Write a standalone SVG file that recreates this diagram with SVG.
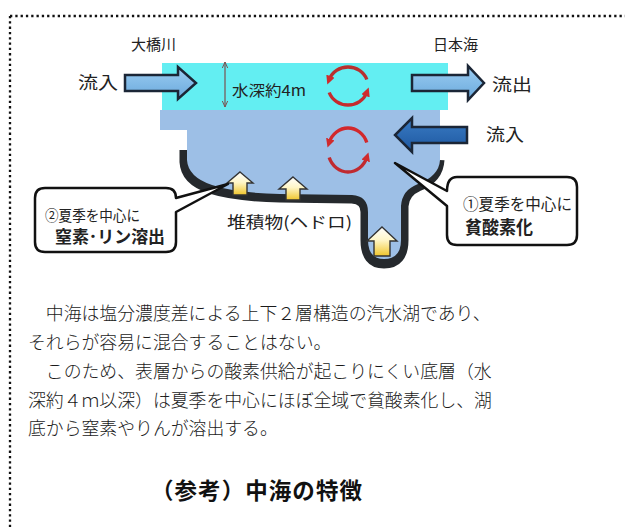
<svg xmlns="http://www.w3.org/2000/svg" width="625" height="530" viewBox="0 0 625 530">
  <defs>
    <style>
      .lbl { font-family: "Noto Sans CJK JP", "Liberation Sans", sans-serif; fill: #222; }
      .body { font-family: "Noto Sans CJK JP", "Liberation Serif", serif; font-size: 17.85px; font-weight: 300; fill: #1a1a1a; }
      .title { font-family: "Noto Sans CJK JP", "Liberation Sans", sans-serif; font-size: 22.5px; font-weight: 700; fill: #111; }
      .frame { stroke: #111; stroke-width: 2.3; stroke-dasharray: 2.3 3; fill: none; }
      .flow { stroke: #1b2636; stroke-width: 2.5; stroke-linejoin: miter; }
      .up { fill: url(#upGrad); stroke: #333; stroke-width: 1.4; stroke-linejoin: miter; }
      .callout { fill: #fff; stroke: #111; stroke-width: 2.5; stroke-linejoin: round; }
      .swirl { fill: none; stroke-width: 3.4; stroke-linecap: butt; }
    </style>
    <linearGradient id="upGrad" x1="0" y1="0" x2="0" y2="1">
      <stop offset="0" stop-color="#ffffff"/>
      <stop offset="0.45" stop-color="#fff6c8"/>
      <stop offset="1" stop-color="#efc52c"/>
    </linearGradient>
    <linearGradient id="lightFlow" x1="0" y1="0" x2="0" y2="1">
      <stop offset="0" stop-color="#9ccdf2"/>
      <stop offset="1" stop-color="#6aa9dc"/>
    </linearGradient>
    <linearGradient id="darkFlow" x1="0" y1="0" x2="0" y2="1">
      <stop offset="0" stop-color="#3a7cc4"/>
      <stop offset="1" stop-color="#1d57a0"/>
    </linearGradient>
    <marker id="redHead" viewBox="0 0 10 10" refX="4" refY="5" markerWidth="2.6" markerHeight="2.6" orient="auto">
      <path d="M0,0 L10,5 L0,10 Z" fill="#d02a2c"/>
    </marker>
    <marker id="thinHead" viewBox="0 0 10 10" refX="9" refY="5" markerWidth="7" markerHeight="7" orient="auto-start-reverse" markerUnits="userSpaceOnUse">
      <path d="M0,1 L9,5 L0,9" fill="none" stroke="#7a5050" stroke-width="1.4"/>
    </marker>
  </defs>

  <rect width="625" height="530" fill="#fff"/>

  <!-- dotted frame -->
  <path class="frame" d="M10,16 H625 M10,16 V530"/>

  <!-- lake cross-section -->
  <g id="lake">
    <!-- dark sediment rim along the bottom -->
    <path d="M185,150 V162 Q186,180 210,188 Q235,196 280,197 L352,198 Q366,199 366,212 V240 Q366,263 384,263 Q403,263 403,240 V206 Q404,192 418,186 Q438,178 439,160"
          fill="none" stroke="#25292d" stroke-width="11" stroke-linejoin="round"/>
    <!-- lower (saline) layer -->
    <path d="M160,110 H440 V160 Q439,176 418,184 Q402,190 401,206 V240 Q401,259 384,259 Q368,259 368,240 V212 Q368,196 352,195 L280,194 Q236,193 212,185 Q188,177 187,160 V130 H160 Z"
          fill="#9dbfe6"/>
    <!-- upper (fresh) layer -->
    <rect x="162" y="63" width="286" height="47" fill="#63eef2"/>
  </g>

  <!-- depth marker -->
  <g id="depth">
    <line x1="225" y1="62" x2="225" y2="107" stroke="#7a5050" stroke-width="1.2" marker-start="url(#thinHead)" marker-end="url(#thinHead)"/>
    <text class="lbl" x="232" y="96" font-size="15" textLength="74" lengthAdjust="spacingAndGlyphs">水深約4m</text>
  </g>

  <!-- circulation in each layer -->
  <g id="circulation">
    <path class="swirl" stroke="#b8302e" d="M366.8,79.5 A20,19 0 0 0 329.2,79.5" marker-end="url(#redHead)"/>
    <path class="swirl" stroke="#c42c2e" d="M329.2,92.5 A20,19 0 0 0 366.8,92.5" marker-end="url(#redHead)"/>
    <path class="swirl" stroke="#d2282c" d="M366.8,142.5 A20,22 0 0 0 329.2,142.5" marker-end="url(#redHead)"/>
    <path class="swirl" stroke="#c02a30" d="M329.2,157.5 A20,22 0 0 0 366.8,157.5" marker-end="url(#redHead)"/>
  </g>

  <!-- flows -->
  <g id="connectors">
    <polygon class="flow" fill="url(#lightFlow)" points="125,75 178,75 178,67 196,83 178,99 178,91 125,91"/>
    <polygon class="flow" fill="url(#lightFlow)" points="412,75 468,75 468,66 484,83 468,100 468,91 412,91"/>
    <polygon class="flow" fill="url(#darkFlow)" points="467,127 412,127 412,118 395,135 412,152 412,143 467,143"/>
  </g>

  <!-- nutrient release arrows -->
  <g id="release">
    <polygon class="up" points="240,172 253,183 247,183 247,195 233,195 233,183 227,183"/>
    <polygon class="up" points="293,177 307,189 300,189 300,200 286,200 286,189 279,189"/>
    <polygon class="up" points="382,227 397,241 390,241 390,256 374,256 374,241 367,241"/>
  </g>

  <g id="labels">
    <text class="lbl" x="131" y="50" font-size="15">大橋川</text>
    <text class="lbl" x="433" y="50" font-size="15">日本海</text>
    <text class="lbl" x="78" y="89" font-size="17" textLength="40" lengthAdjust="spacingAndGlyphs">流入</text>
    <text class="lbl" x="492" y="91" font-size="17" textLength="40" lengthAdjust="spacingAndGlyphs">流出</text>
    <text class="lbl" x="486" y="141" font-size="17" textLength="38" lengthAdjust="spacingAndGlyphs">流入</text>
    <text class="lbl" x="227" y="228" font-size="16" textLength="125" lengthAdjust="spacingAndGlyphs">堆積物(ヘドロ)</text>
  </g>

  <g id="callout-left">
    <path class="callout" d="M45,188 H166 Q176,188 176,198 L228,184 L176,212 V242 Q176,252 166,252 H45 Q35,252 35,242 V198 Q35,188 45,188 Z"/>
    <text class="lbl" x="45" y="220.5" font-size="15" textLength="95" lengthAdjust="spacingAndGlyphs">②夏季を中心に</text>
    <text class="lbl" x="55" y="243" font-size="17" font-weight="700" textLength="110" lengthAdjust="spacingAndGlyphs">窒素･リン溶出</text>
  </g>

  <g id="callout-right">
    <path class="callout" d="M457,177 H567 Q577,177 577,187 V235 Q577,245 567,245 H457 Q447,245 447,235 V206 L395,163 L447,191 Q447,177 457,177 Z"/>
    <text class="lbl" x="463" y="209.5" font-size="16" textLength="109" lengthAdjust="spacingAndGlyphs">①夏季を中心に</text>
    <text class="lbl" x="465" y="234" font-size="18" font-weight="700" textLength="68" lengthAdjust="spacingAndGlyphs">貧酸素化</text>
  </g>

  <!-- explanatory text -->
  <g id="description">
    <text class="body" x="28" y="320">　中海は塩分濃度差による上下２層構造の汽水湖であり、</text>
    <text class="body" x="28" y="349">それらが容易に混合することはない。</text>
    <text class="body" x="28" y="378">　このため、表層からの酸素供給が起こりにくい底層（水</text>
    <text class="body" x="28" y="407">深約４ｍ以深）は夏季を中心にほぼ全域で貧酸素化し、湖</text>
    <text class="body" x="28" y="435">底から窒素やりんが溶出する。</text>
  </g>

  <g id="caption">
    <text class="title" x="151" y="499" textLength="211">（参考）中海の特徴</text>
  </g>
</svg>
